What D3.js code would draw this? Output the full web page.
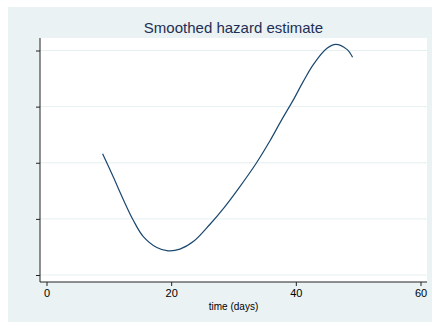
<!DOCTYPE html>
<html>
<head>
<meta charset="utf-8">
<script src="https://cdn.jsdelivr.net/npm/d3@7"></script>
<style>
html,body{margin:0;padding:0;background:#fff;}
svg{display:block;font-family:"Liberation Sans",Arial,sans-serif;}
</style>
</head>
<body>
<svg id="chart" width="432" height="322"></svg>
<script>
const title = "Smoothed hazard estimate";
const xLabel = "time (days)";
const xTicks = [0, 20, 40, 60];
const yTicks = [0.01, 0.02, 0.03, 0.04, 0.05];
const days = [9, 10.7, 12.3, 13.9, 15.5, 17.7, 19.5, 21.4, 23.6, 26.2, 28.5, 31.0, 33.7, 35.9, 37.7, 39.6, 41.2, 42.8, 45.0, 46.4, 48.2, 49.1];
const hazard = [0.0316, 0.0275, 0.0235, 0.0198, 0.0169, 0.0149, 0.0143, 0.0146, 0.0160, 0.0190, 0.0220, 0.0257, 0.0300, 0.0340, 0.0376, 0.0412, 0.0445, 0.0475, 0.0504, 0.0511, 0.0502, 0.0488];

const svg = d3.select("#chart");
// outer graph region
svg.append("rect").attr("x", 8).attr("y", 7).attr("width", 424).attr("height", 315).attr("fill", "#eaf2f3");

const plot = {left: 40, right: 427, top: 38, bottom: 282};
svg.append("rect").attr("x", plot.left).attr("y", plot.top)
  .attr("width", plot.right - plot.left).attr("height", plot.bottom - plot.top)
  .attr("fill", "#ffffff");

const x = d3.scaleLinear().domain([0, 60]).range([46.5, 420.5]);
const y = d3.scaleLinear().domain([0.01, 0.05]).range([275, 50.5]);

// gridlines
svg.append("g").selectAll("line").data(yTicks).join("line")
  .attr("x1", plot.left).attr("x2", plot.right)
  .attr("y1", d => y(d)).attr("y2", d => y(d))
  .attr("stroke", "#e6eff0").attr("stroke-width", 1);

// y axis
const yAxis = d3.axisLeft(y).tickValues(yTicks).tickSize(4).tickFormat("");
const gy = svg.append("g").attr("transform", `translate(${plot.left},0)`).call(yAxis);
gy.select(".domain").remove();
gy.selectAll(".tick line").attr("stroke", "#222");
svg.append("line").attr("x1", plot.left).attr("x2", plot.left).attr("y1", plot.top).attr("y2", plot.bottom)
  .attr("stroke", "#222").attr("stroke-width", 1);

// x axis
const xAxis = d3.axisBottom(x).tickValues(xTicks).tickSize(4).tickPadding(3).tickFormat(d3.format("d"));
const gx = svg.append("g").attr("transform", `translate(0,${plot.bottom})`).call(xAxis);
gx.select(".domain").remove();
gx.selectAll(".tick line").attr("stroke", "#222");
gx.selectAll(".tick text").attr("font-size", 11).attr("fill", "#000").attr("font-family", "Liberation Sans, Arial, sans-serif");
svg.append("line").attr("x1", plot.left).attr("x2", plot.right).attr("y1", plot.bottom).attr("y2", plot.bottom)
  .attr("stroke", "#222").attr("stroke-width", 1);

// axis title
svg.append("text").attr("x", x(30)).attr("y", 310).attr("text-anchor", "middle")
  .attr("font-size", 10).attr("fill", "#000").text(xLabel);

// title
svg.append("text").attr("x", (plot.left + plot.right) / 2).attr("y", 33).attr("text-anchor", "middle")
  .attr("font-size", 15).attr("fill", "#1e2f55").text(title);

// curve
const pts = days.map((d, i) => [d, hazard[i]]);
const line = d3.line().x(d => x(d[0])).y(d => y(d[1])).curve(d3.curveCatmullRom.alpha(0.5));
svg.append("path").datum(pts).attr("d", line).attr("fill", "none")
  .attr("stroke", "#1a476f").attr("stroke-width", 1.2);
</script>
</body>
</html>
